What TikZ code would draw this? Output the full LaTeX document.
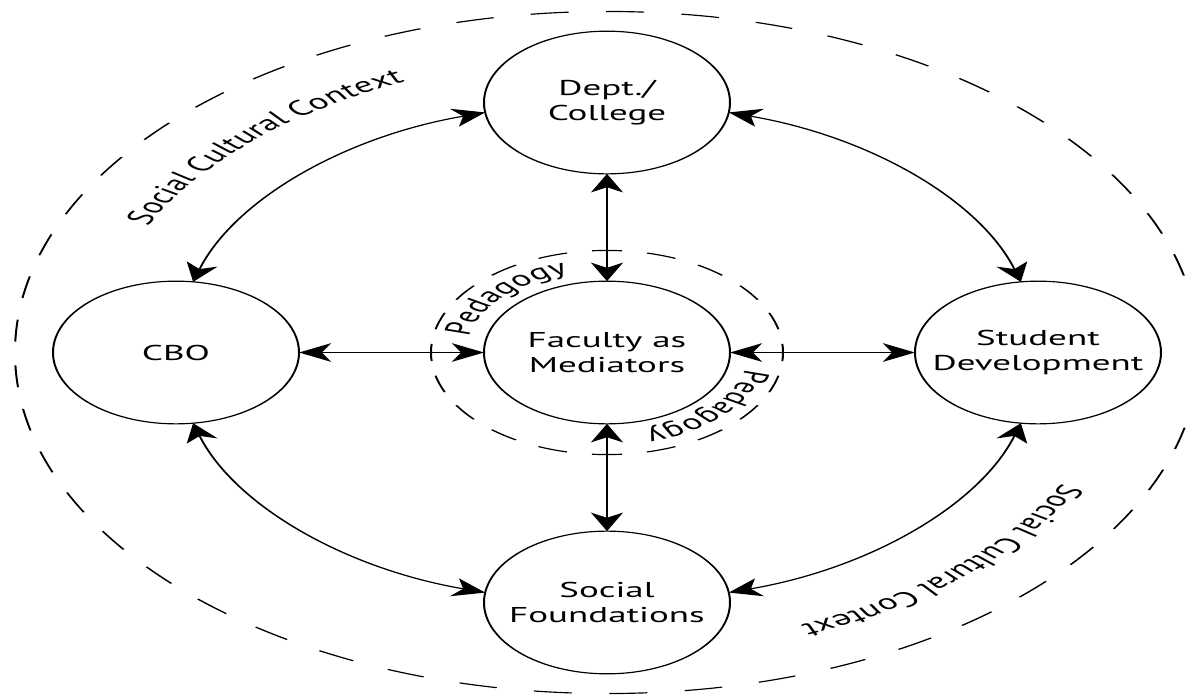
\documentclass[tikz,border=0pt]{standalone}
\usepackage{fontspec}
\setmainfont{PT Sans}
\usetikzlibrary{arrows.meta,decorations.text}

\newcommand\hubfont{\fontsize{18.5}{21.5}\selectfont}
\newcommand\ringfont{\fontsize{18.5}{20}\selectfont}

\begin{document}
\begin{tikzpicture}[x=0.5pt,y=0.5pt,
  >={Stealth[length=16pt,width=16pt,inset=4.5pt]},
  hub/.style={circle,draw,line width=1pt,minimum size=123pt,inner sep=0pt,
    outer sep=0pt,align=center,font=\hubfont},
  link/.style={<->,line width=1.4pt},
  curvelink/.style={<->,line width=1pt,bend right=28.6,looseness=0.91},
  outerring/.style={line width=1pt,dash pattern=on 19pt off 18.8pt,dash phase=28.4pt},
  innerring/.style={line width=1pt,dash pattern=on 15pt off 12.65pt,dash phase=7.5pt},
  ringtext/.style={decorate,decoration={text along path,text align=center,text={|\ringfont|#1}}}
]
\useasboundingbox (-607,-345.5) rectangle (583,352.5);

% everything is laid out on circles, then flattened vertically
\begin{scope}[transform canvas={yscale=0.58}]
  % the five units
  \node[hub] (fac)   at (0,0)    {Faculty as\\Mediators};
  \node[hub] (dept)  at (0,431)  {Dept./\\College};
  \node[hub] (found) at (0,-431) {Social\\Foundations};
  \node[hub] (cbo)   at (-431,0) {CBO};
  \node[hub] (stud)  at (431,0)  {Student\\Development};

  % context rings
  \draw[outerring] (-592,0) arc[start angle=180,end angle=-180,x radius=592,y radius=588];
  \draw[innerring] (-176,0) arc[start angle=180,end angle=-180,radius=176];

  % ring labels
  \path[ringtext={Social Cultural Context}] (179:508) arc[start angle=179,end angle=89,radius=508];
  \path[ringtext={Social Cultural Context}] (-2:508) arc[start angle=-2,end angle=-92,radius=508];
  \path[ringtext={Pedagogy}] (187:141) arc[start angle=187,end angle=87,radius=141];
  \path[ringtext={Pedagogy}] (7:141) arc[start angle=7,end angle=-93,radius=141];

  % links through the mediator
  \draw[link] (dept) -- (fac);
  \draw[link] (fac) -- (found);
  \draw[link] (cbo) -- (fac);
  \draw[link] (fac) -- (stud);

  % links around the outside
  \draw[curvelink] (dept.188) to (cbo.82);
  \draw[curvelink] (cbo.278) to (found.172);
  \draw[curvelink] (found.8) to (stud.262);
  \draw[curvelink] (stud.98) to (dept.352);
\end{scope}
\end{tikzpicture}
\end{document}
